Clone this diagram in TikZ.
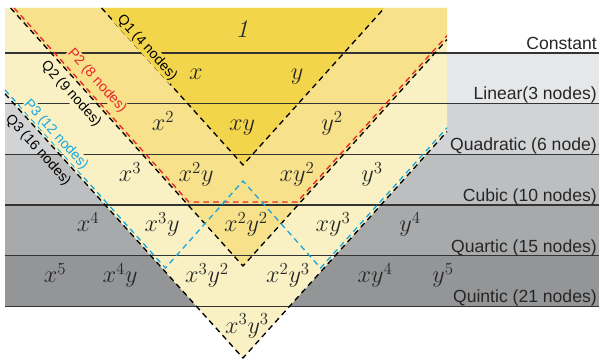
\documentclass[tikz,border=0pt]{standalone}
\usepackage{fontspec}
\setsansfont{Liberation Sans}
\usepackage{xcolor}
\usepackage{tikz}
\definecolor{GoldInner}{RGB}{243,213,76}
\definecolor{GoldMid}{RGB}{247,225,139}
\definecolor{CreamOuter}{RGB}{249,241,195}
\definecolor{GrayLinear}{RGB}{230,231,232}
\definecolor{GrayQuad}{RGB}{210,211,213}
\definecolor{GrayCubic}{RGB}{189,190,192}
\definecolor{GrayQuartic}{RGB}{168,169,171}
\definecolor{GrayQuintic}{RGB}{148,149,151}
\definecolor{PTwoRed}{RGB}{232,38,43}
\definecolor{PThreeBlue}{RGB}{27,167,224}
\tikzset{
  term/.style={font=\fontsize{18}{21}\selectfont, text=black!85, anchor=base, inner sep=0pt},
  degname/.style={font=\sffamily\fontsize{12.5}{15}\selectfont, text=black!85, anchor=base east, inner sep=0pt},
  gridline/.style={line width=1pt, black!80},
  tpline/.style={dash pattern=on 4pt off 3pt, line width=0.95pt},
  spacelbl/.style={font=\sffamily\fontsize{10}{12}\selectfont, rotate=-48, inner sep=0.6pt},
}

\begin{document}
\begin{tikzpicture}[x=0.025cm,y=-0.025cm]
  \useasboundingbox (0,0) rectangle (600,360);
  % degree bands
  \fill[GrayLinear]  (5,53)    rectangle (599,103.5);
  \fill[GrayQuad]    (5,103.5) rectangle (599,154.3);
  \fill[GrayCubic]   (5,154.3) rectangle (599,205);
  \fill[GrayQuartic] (5,205)   rectangle (599,255.7);
  \fill[GrayQuintic] (5,255.7) rectangle (599,306.5);

  % tensor product spaces Q1, Q2, Q3
  \coordinate (Q1a) at (101.6,8);  \coordinate (Q1b) at (243,165); \coordinate (Q1c) at (384.4,8);
  \coordinate (Q2a) at (10.6,8);   \coordinate (Q2b) at (243,266); \coordinate (Q2c) at (447,39.6);
  \coordinate (Q3a) at (5,93.8);   \coordinate (Q3b) at (243,358); \coordinate (Q3c) at (447,131.6);
  \fill[CreamOuter] (5,8) -- (447,8) -- (Q3c) -- (Q3b) -- (Q3a) -- cycle;
  \fill[GoldMid] (Q2a) -- (447,8) -- (Q2c) -- (Q2b) -- cycle;
  \fill[GoldInner] (Q1a) -- (Q1c) -- (Q1b) -- cycle;

  % level separators
  \draw[gridline] (5,53)    -- (599,53);
  \draw[gridline] (5,103.5) -- (599,103.5);
  \draw[gridline] (5,154.3) -- (599,154.3);
  \draw[gridline] (5,205)   -- (599,205);
  \draw[gridline] (5,255.7) -- (599,255.7);
  \draw[gridline] (5,306.5) -- (599,306.5);

  % serendipity spaces P2, P3
  \coordinate (P2a) at (14.1,8);  \coordinate (P2b) at (188.8,202);
  \coordinate (P2c) at (297.2,202); \coordinate (P2d) at (447,35.7);
  \coordinate (P3a) at (5,89.9);  \coordinate (P3b) at (165.4,268); \coordinate (P3c) at (243,181);
  \coordinate (P3d) at (320.6,268); \coordinate (P3e) at (447,127.7);

  \draw[tpline] (Q1a) -- (Q1b) -- (Q1c);
  \draw[tpline] (Q2a) -- (Q2b) -- (Q2c);
  \draw[tpline] (Q3a) -- (Q3b) -- (Q3c);
  \draw[tpline,PTwoRed] (P2a) -- (P2b) -- (P2c) -- (P2d);
  \draw[tpline,PThreeBlue] (P3a) -- (P3b) -- (P3c) -- (P3d) -- (P3e);

  \node[spacelbl,fill=GoldInner] (lq1) at (147,48) {Q1 (4 nodes)};
  \node[spacelbl,fill=GoldMid,text=PTwoRed] (lp2) at (97,81) {P2 (8 nodes)};
  \node[spacelbl,fill=CreamOuter] (lq2) at (71,94) {Q2 (9 nodes)};
  \node[spacelbl,fill=CreamOuter,text=PThreeBlue] (lp3) at (56,135) {P3 (12 nodes)};
  \node[spacelbl] (lq3) at (38,150) {Q3 (16 nodes)};

  % monomials
  \node[term] (t00) at (242,38) {$\mathit{1}$};
  \node[term] (t10) at (196,80) {$x$};
  \node[term] (t11) at (297,80) {$y$};
  \node[term] (t20) at (163,131) {$x^2$};
  \node[term] (t21) at (242,131) {$xy$};
  \node[term] (t22) at (332,131) {$y^2$};
  \node[term] (t30) at (130,182) {$x^3$};
  \node[term] (t31) at (196,182) {$x^2y$};
  \node[term] (t32) at (297,182) {$xy^2$};
  \node[term] (t33) at (372,182) {$y^3$};
  \node[term] (t40) at (88,232) {$x^4$};
  \node[term] (t41) at (162,232) {$x^3y$};
  \node[term] (t42) at (246,232) {$x^2y^2$};
  \node[term] (t43) at (333,232) {$xy^3$};
  \node[term] (t44) at (410,232) {$y^4$};
  \node[term] (t50) at (55,283) {$x^5$};
  \node[term] (t51) at (120,283) {$x^4y$};
  \node[term] (t52) at (207,283) {$x^3y^2$};
  \node[term] (t53) at (288,283) {$x^2y^3$};
  \node[term] (t54) at (375,283) {$xy^4$};
  \node[term] (t55) at (443,283) {$y^5$};
  \node[term] (t63) at (247,333) {$x^3y^3$};

  % degree names
  \node[degname] (constant)  at (597,49.5)  {Constant};
  \node[degname] (linear)    at (597,100)   {Linear(3 nodes)};
  \node[degname] (quadratic) at (597,150.8) {Quadratic (6 node)};
  \node[degname] (cubic)     at (597,201.5) {Cubic (10 nodes)};
  \node[degname] (quartic)   at (597,252.2) {Quartic (15 nodes)};
  \node[degname] (quintic)   at (597,303)   {Quintic (21 nodes)};
\end{tikzpicture}
\end{document}
